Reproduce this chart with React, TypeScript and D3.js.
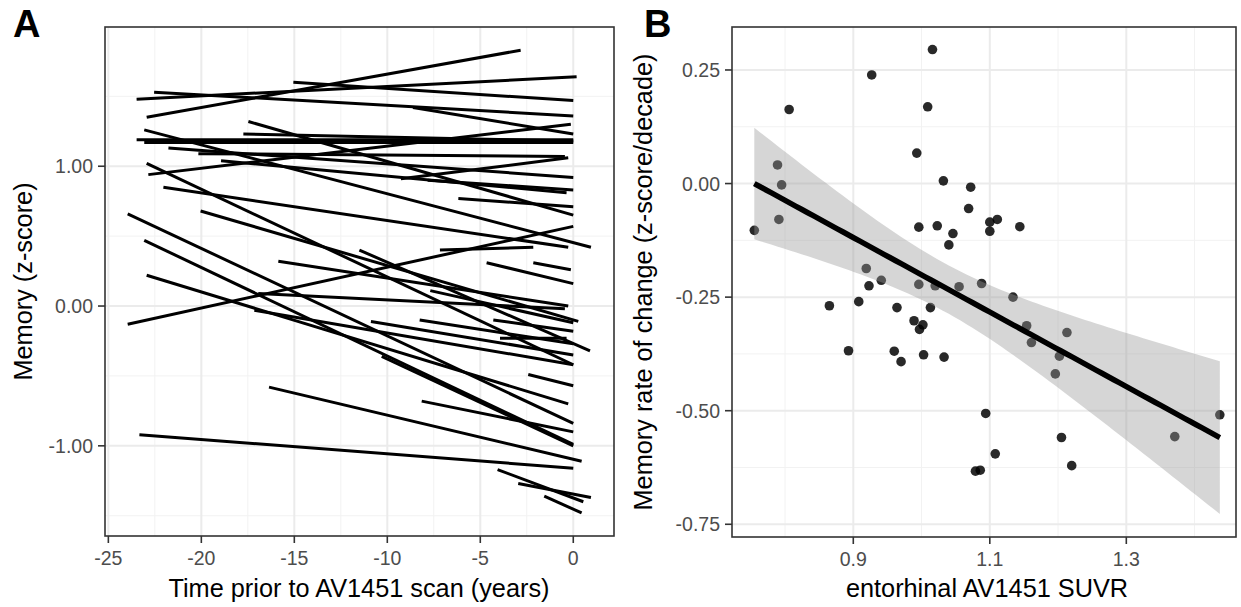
import React from "react";
import * as d3 from "d3";

// Panel A: one memory trajectory per participant (years before scan, z-score)
const startYear = [-22.94, -23.48, -15.05, -22.54, -8.62, -22.85, -23.48, -23.07, -17.74, -17.47, -21.77, -20.16, -9.27, -18.94, -7.83, -6.18, -23.07, -22.04, -20.04, -22.94, -23.96, -23.07, -22.94, -15.86, -7.17, -4.66, -2.15, -23.96, -16.94, -17.15, -10.88, -8.26, -7.69, -4.3, -3.94, -2.42, -10.3, -16.36, -8.15, -23.33, -4.07, -2.96, -1.56, -11.5];
const startMemory = [1.35, 1.48, 1.6, 1.53, 1.42, 0.94, 1.19, 1.17, 1.23, 1.32, 1.13, 1.09, 0.91, 1.04, 0.9, 0.77, 1.26, 0.85, 0.68, 1.02, 0.66, 0.47, 0.22, 0.32, 0.4, 0.31, 0.31, -0.13, 0.09, -0.03, -0.11, -0.1, 0.11, -0.1, -0.23, -0.49, -0.36, -0.58, -0.68, -0.92, -1.17, -1.27, -1.36, 0.4];
const endYear = [-2.83, 0.18, 0, 0, 0, -0.13, 0, 0, 0, 0, 0, -0.45, -0.27, -0.36, 0, 0, 0.95, -0.27, 0.27, 0, 0, 0, -0.27, -0.27, -2.15, 0, -0.13, 0, -0.45, 0, 0, 0, 0, 0, -0.36, 0, 0, 0.45, 0, 0, 0.54, 0.95, 0.45, 0.9];
const endMemory = [1.83, 1.64, 1.47, 1.36, 1.23, 1.3, 1.19, 1.17, 1.18, 0.65, 0.92, 1.07, 1.06, 0.81, 0.83, 0.71, 0.42, 0.42, -0.11, -0.42, -0.84, -0.99, -0.7, 0.0, 0.42, 0.16, 0.26, 0.57, -0.02, -0.42, -0.35, -0.27, -0.12, -0.18, -0.23, -0.57, -1.0, -1.11, -0.9, -1.16, -1.4, -1.37, -1.48, -0.32];

// Panel B: entorhinal SUVR vs memory slope
const suvr = [1.016, 0.927, 0.806, 1.009, 0.993, 0.789, 0.795, 1.032, 1.072, 1.069, 0.755, 0.791, 0.996, 1.023, 1.046, 1.04, 1.1, 1.111, 1.1, 1.144, 0.919, 0.941, 0.923, 0.996, 1.02, 1.055, 1.088, 1.134, 0.908, 0.865, 0.964, 1.013, 0.989, 1.002, 0.997, 1.154, 1.213, 1.161, 0.893, 0.96, 0.97, 1.003, 1.033, 1.202, 1.196, 1.094, 1.437, 1.371, 1.205, 1.108, 1.22, 1.079, 1.086];
const memSlope = [0.295, 0.239, 0.163, 0.169, 0.067, 0.041, -0.003, 0.006, -0.008, -0.055, -0.103, -0.079, -0.096, -0.093, -0.11, -0.135, -0.085, -0.079, -0.105, -0.095, -0.187, -0.213, -0.225, -0.222, -0.225, -0.227, -0.22, -0.25, -0.26, -0.269, -0.273, -0.273, -0.302, -0.311, -0.321, -0.313, -0.328, -0.35, -0.368, -0.369, -0.392, -0.377, -0.382, -0.38, -0.419, -0.506, -0.509, -0.557, -0.559, -0.595, -0.621, -0.633, -0.631];

const xTicksA = [-25, -20, -15, -10, -5, 0];
const xMinorA = [-22.5, -17.5, -12.5, -7.5, -2.5];
const yTicksA = [-1, 0, 1];
const yMinorA = [-1.5, -0.5, 0.5, 1.5];
const xTicksB = [0.9, 1.1, 1.3];
const xMinorB = [0.8, 1.0, 1.2, 1.4];
const yTicksB = [-0.75, -0.5, -0.25, 0, 0.25];
const yMinorB = [-0.625, -0.375, -0.125, 0.125];

const FONT = "'Liberation Sans', Arial, Helvetica, sans-serif";

// hyphen instead of unicode minus, like the reference
const fmt = (spec: string) => (v: number) => d3.format(spec)(v).replace("\u2212", "-");

function lmFit(xs: number[], ys: number[]) {
  const n = xs.length;
  const mx = d3.mean(xs) as number;
  const my = d3.mean(ys) as number;
  const sxx = d3.sum(xs, (x) => (x - mx) ** 2);
  const sxy = d3.sum(xs.map((x, i) => (x - mx) * (ys[i] - my)));
  const b = sxy / sxx;
  const a = my - b * mx;
  const s = Math.sqrt(d3.sum(xs.map((x, i) => (ys[i] - a - b * x) ** 2)) / (n - 2));
  const t = 2.008;
  const [lo, hi] = d3.extent(xs) as [number, number];
  return d3.range(80).map((i) => {
    const x = lo + (i * (hi - lo)) / 79;
    const y = a + b * x;
    const se = s * Math.sqrt(1 / n + (x - mx) ** 2 / sxx);
    return { x, y, lower: y - t * se, upper: y + t * se };
  });
}

const App = () => {
  // panel A
  const ax = d3.scaleLinear().domain([-25.18, 2.19]).range([105, 614]);
  const ay = d3.scaleLinear().domain([1.996, -1.645]).range([27, 536]);
  // panel B
  const bx = d3.scaleLinear().domain([0.7223, 1.4607]).range([732, 1236]);
  const by = d3.scaleLinear().domain([0.3446, -0.778]).range([27, 537]);

  const fit = lmFit(suvr, memSlope);
  const area = d3
    .area<any>()
    .x((d) => bx(d.x))
    .y0((d) => by(d.lower))
    .y1((d) => by(d.upper));
  const line = d3
    .line<any>()
    .x((d) => bx(d.x))
    .y((d) => by(d.y));

  const grid = (xs: any, ys: any, xMaj: number[], xMin: number[], yMaj: number[], yMin: number[]) => {
    const [x0, x1] = xs.range();
    const [y0, y1] = ys.range();
    return (
      <g>
        {xMin.map((v) => (
          <line key={"xm" + v} x1={xs(v)} x2={xs(v)} y1={y0} y2={y1} stroke="#f2f2f2" strokeWidth={1} />
        ))}
        {yMin.map((v) => (
          <line key={"ym" + v} x1={x0} x2={x1} y1={ys(v)} y2={ys(v)} stroke="#f2f2f2" strokeWidth={1} />
        ))}
        {xMaj.map((v) => (
          <line key={"xM" + v} x1={xs(v)} x2={xs(v)} y1={y0} y2={y1} stroke="#ebebeb" strokeWidth={2} />
        ))}
        {yMaj.map((v) => (
          <line key={"yM" + v} x1={x0} x2={x1} y1={ys(v)} y2={ys(v)} stroke="#ebebeb" strokeWidth={2} />
        ))}
      </g>
    );
  };

  const axes = (xs: any, ys: any, xMaj: number[], yMaj: number[], fx: (v: number) => string, fy: (v: number) => string) => {
    const [x0, x1] = xs.range();
    const [y0, y1] = ys.range();
    return (
      <g fontFamily={FONT}>
        <rect x={x0} y={y0} width={x1 - x0} height={y1 - y0} fill="none" stroke="#333333" strokeWidth={1.6} />
        {xMaj.map((v) => (
          <g key={"xt" + v}>
            <line x1={xs(v)} x2={xs(v)} y1={y1} y2={y1 + 7} stroke="#333333" strokeWidth={1.6} />
            <text x={xs(v)} y={y1 + 29} textAnchor="middle" fontSize={19.5} fill="#4d4d4d">
              {fx(v)}
            </text>
          </g>
        ))}
        {yMaj.map((v) => (
          <g key={"yt" + v}>
            <line x1={x0 - 7} x2={x0} y1={ys(v)} y2={ys(v)} stroke="#333333" strokeWidth={1.6} />
            <text x={x0 - 12} y={ys(v) + 7} textAnchor="end" fontSize={19.5} fill="#4d4d4d">
              {fy(v)}
            </text>
          </g>
        ))}
      </g>
    );
  };

  return (
    <svg width={1241} height={607} style={{ position: "absolute", left: 0, top: 0, background: "#fff" }}>
      <rect width={1241} height={607} fill="#fff" />
      {/* Panel A */}
      {grid(ax, ay, xTicksA, xMinorA, yTicksA, yMinorA)}
      <g stroke="#000" strokeWidth={3} strokeLinecap="butt">
        {startYear.map((s, i) => (
          <line key={i} x1={ax(s)} y1={ay(startMemory[i])} x2={ax(endYear[i])} y2={ay(endMemory[i])} />
        ))}
      </g>
      {axes(ax, ay, xTicksA, yTicksA, fmt("d"), fmt(".2f"))}
      <text x={359} y={597} textAnchor="middle" fontFamily={FONT} fontSize={25.3}>
        Time prior to AV1451 scan (years)
      </text>
      <text transform="translate(32,281.5) rotate(-90)" textAnchor="middle" fontFamily={FONT} fontSize={25.3}>
        Memory (z-score)
      </text>
      <text x={13} y={37} fontFamily={FONT} fontWeight="bold" fontSize={38}>
        A
      </text>

      {/* Panel B */}
      {grid(bx, by, xTicksB, xMinorB, yTicksB, yMinorB)}
      <g>
        {suvr.map((v, i) => (
          <circle key={i} cx={bx(v)} cy={by(memSlope[i])} r={4.8} fill="#000" fillOpacity={0.84} />
        ))}
      </g>
      <path d={area(fit) as string} fill="#999999" fillOpacity={0.4} />
      <path d={line(fit) as string} fill="none" stroke="#000" strokeWidth={5.5} />
      {axes(bx, by, xTicksB, yTicksB, fmt(".1f"), fmt(".2f"))}
      <text x={987} y={597} textAnchor="middle" fontFamily={FONT} fontSize={25.3}>
        entorhinal AV1451 SUVR
      </text>
      <text transform="translate(652,282) rotate(-90)" textAnchor="middle" fontFamily={FONT} fontSize={25.3}>
        Memory rate of change (z-score/decade)
      </text>
      <text x={644} y={37} fontFamily={FONT} fontWeight="bold" fontSize={38}>
        B
      </text>
    </svg>
  );
};

export default App;
